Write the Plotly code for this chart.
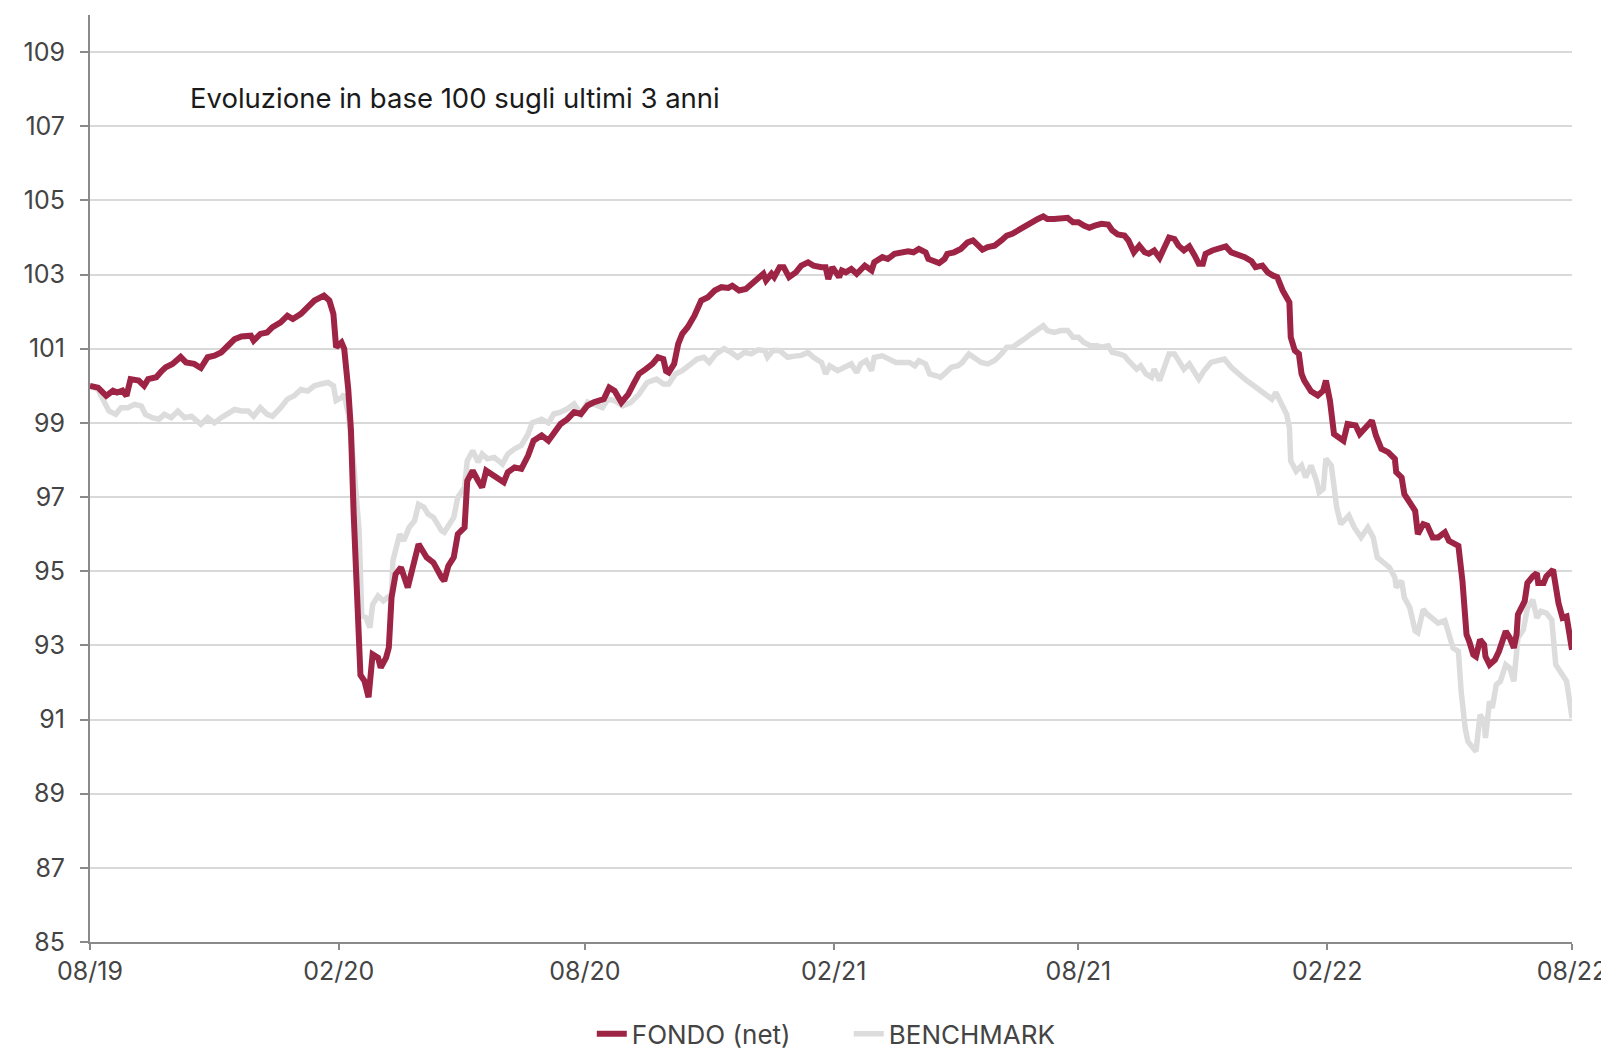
import pandas as pd
import plotly.graph_objects as go

START = "2019-08-01"
END = "2022-08-01"

# FONDO (net): days since start, index value
fondo_days = [0,6,12,17,20,24,27,30,36,40,43,49,53,56,61,67,71,77,82,87,92,97,102,107,112,119,121,126,131,135,
              141,146,150,156,161,166,173,177,180,182,186,188,191,193,195,198,200,203,206,209,213,215,219,221,223,
              226,230,235,239,243,249,254,260,262,265,269,272,277,279,283,287,290,293,299,306,309,314,319,324,328,
              334,339,343,348,353,358,363,368,373,376,380,384,388,393,398,402,406,411,416,420,424,426,428,432,435,
              438,442,447,452,457,462,467,472,475,480,485,490,495,498,500,504,506,510,513,517,522,526,531,535,541,
              544,546,549,554,556,559,563,567,570,573,578,580,586,590,595,600,605,609,613,618,620,623,628,632,634,
              639,644,649,653,657,660,664,669,674,678,682,686,691,696,701,705,708,713,718,723,727,731,735,739,743,
              748,753,756,760,765,768,772,776,780,783,787,791,794,798,802,805,809,813,817,820,823,825,830,835,840,
              844,849,854,859,862,867,871,875,878,882,887,888,891,894,896,898,903,908,912,914,917,920,927,930,934,
              936,939,943,948,951,955,960,965,966,970,972,976,980,982,986,989,993,997,1002,1005,1012,1015,1018,1020,
              1023,1025,1028,1031,1032,1035,1039,1042,1047,1050,1053,1055,1056,1061,1063,1067,1070,1071,1075,1077,
              1082,1086,1089,1092,1093,1095,1096]
fondo_vals = [100.0,99.95,99.73,99.87,99.82,99.87,99.73,100.18,100.14,100.0,100.18,100.23,100.4,100.5,100.59,
              100.78,100.63,100.59,100.48,100.77,100.81,100.9,101.08,101.26,101.33,101.35,101.22,101.4,101.44,101.58,
              101.71,101.89,101.8,101.94,102.12,102.3,102.43,102.3,101.94,101.04,101.17,101.0,99.9,98.8,96.54,93.84,
              92.2,92.04,91.6,92.76,92.67,92.4,92.67,92.94,94.29,94.92,95.1,94.56,95.19,95.73,95.37,95.23,94.83,94.74,
              95.14,95.37,96.0,96.18,97.44,97.71,97.44,97.26,97.71,97.58,97.4,97.67,97.8,97.76,98.12,98.52,98.66,98.52,
              98.75,98.97,99.1,99.29,99.24,99.47,99.56,99.6,99.64,99.95,99.86,99.55,99.77,100.05,100.32,100.45,100.59,
              100.77,100.72,100.4,100.36,100.59,101.13,101.4,101.58,101.89,102.3,102.39,102.57,102.66,102.64,102.7,
              102.57,102.61,102.75,102.93,103.02,102.84,103.02,102.93,103.2,103.2,102.93,103.06,103.24,103.33,103.24,
              103.2,103.2,102.88,103.2,102.93,103.11,103.06,103.15,103.02,103.11,103.24,103.11,103.33,103.47,103.42,
              103.56,103.6,103.63,103.6,103.69,103.6,103.42,103.38,103.31,103.42,103.56,103.6,103.69,103.87,103.92,
              103.78,103.67,103.74,103.78,103.92,104.05,104.1,104.19,104.3,104.41,104.5,104.57,104.5,104.5,104.5,
              104.53,104.41,104.41,104.32,104.26,104.32,104.37,104.35,104.19,104.08,104.05,103.92,103.6,103.78,103.6,
              103.56,103.65,103.45,103.65,104.0,103.96,103.78,103.65,103.76,103.51,103.29,103.29,103.56,103.65,103.69,
              103.76,103.6,103.54,103.47,103.36,103.2,103.24,103.06,102.97,102.93,102.57,102.25,101.31,100.95,100.86,
              100.32,100.14,99.85,99.74,99.87,100.14,99.6,98.7,98.52,98.97,98.97,98.93,98.7,98.84,99.06,98.66,98.3,
              98.21,98.03,97.67,97.53,97.08,96.86,96.63,96.0,96.27,96.23,95.91,95.91,96.05,95.82,95.68,94.73,93.29,
              93.11,92.75,92.7,93.15,93.02,92.7,92.48,92.61,92.84,93.38,93.2,92.93,93.29,93.83,94.19,94.68,94.86,94.95,
              94.68,94.68,94.86,95.04,94.14,93.74,93.78,93.56,93.29,92.88]

# BENCHMARK: days since start, index value
bench_days = [0,6,10,14,19,23,28,33,38,41,46,51,55,60,65,70,75,78,82,87,92,97,102,107,112,117,121,126,131,135,
              141,146,151,156,161,166,171,176,180,182,186,188,191,195,199,201,204,207,209,213,217,223,224,229,232,
              236,240,243,247,250,254,260,262,266,269,272,277,279,283,287,290,294,299,305,309,314,319,324,327,334,
              339,343,348,353,358,363,368,375,379,383,388,394,400,406,412,419,424,428,433,438,444,449,454,458,463,
              469,474,479,484,489,494,499,501,505,510,516,521,526,531,535,541,544,547,553,558,563,567,570,574,578,
              580,586,591,596,601,606,610,613,618,621,626,629,633,637,642,645,650,654,659,664,669,674,678,682,686,
              691,696,701,705,708,713,718,723,727,731,735,740,745,748,753,756,761,765,768,774,777,781,785,787,791,
              794,798,802,805,809,813,817,820,824,829,834,839,844,849,854,859,864,869,874,877,881,885,887,888,892,
              896,899,903,907,909,912,914,918,922,925,929,931,935,940,945,949,952,956,961,965,966,970,972,976,980,
              982,986,989,993,997,1002,1005,1008,1012,1014,1017,1019,1022,1025,1028,1031,1032,1035,1037,1040,1043,
              1047,1050,1053,1056,1060,1063,1067,1070,1073,1077,1081,1084,1089,1092,1095,1096]
bench_vals = [100.0,99.9,99.6,99.32,99.23,99.41,99.41,99.5,99.45,99.23,99.14,99.1,99.23,99.14,99.32,99.14,99.18,
              99.1,98.96,99.14,99.0,99.14,99.23,99.36,99.32,99.32,99.18,99.41,99.23,99.18,99.41,99.64,99.73,99.9,
              99.86,100.0,100.05,100.09,100.0,99.6,99.68,99.77,99.24,97.9,96.1,93.8,93.75,93.48,94.1,94.33,94.2,
              94.38,95.28,96.0,95.82,96.18,96.36,96.8,96.72,96.54,96.45,96.09,96.05,96.27,96.45,96.99,97.26,97.98,
              98.25,97.94,98.16,98.03,98.07,97.89,98.16,98.3,98.39,98.7,99.0,99.1,99.0,99.24,99.29,99.38,99.51,99.24,
              99.56,99.47,99.41,99.64,99.6,99.46,99.55,99.77,100.09,100.18,100.05,100.05,100.32,100.41,100.59,100.72,
              100.77,100.63,100.86,101.0,100.9,100.77,100.9,100.86,100.97,100.95,100.77,100.95,100.95,100.77,100.8,
              100.82,100.9,100.77,100.63,100.32,100.54,100.41,100.5,100.59,100.36,100.59,100.68,100.41,100.77,100.81,
              100.72,100.63,100.63,100.63,100.54,100.68,100.59,100.32,100.27,100.23,100.36,100.5,100.54,100.63,100.86,
              100.77,100.63,100.59,100.68,100.86,101.04,101.04,101.13,101.26,101.4,101.53,101.62,101.49,101.44,101.49,
              101.49,101.31,101.31,101.17,101.08,101.08,101.04,101.08,100.9,100.86,100.81,100.68,100.45,100.54,100.32,
              100.23,100.45,100.14,100.45,100.86,100.86,100.68,100.45,100.59,100.32,100.18,100.41,100.63,100.68,100.72,
              100.5,100.32,100.18,100.05,99.91,99.77,99.64,99.82,99.5,99.23,98.87,97.97,97.7,97.85,97.53,97.85,97.44,
              97.13,97.22,98.03,97.85,96.72,96.27,96.45,96.5,96.18,95.91,96.18,95.91,95.37,95.23,95.1,94.83,94.56,94.74,
              94.29,94.02,93.39,93.34,93.97,93.84,93.7,93.6,93.67,93.29,92.93,92.84,91.76,90.77,90.41,90.27,90.14,91.13,
              90.95,90.5,91.49,91.31,91.94,92.03,92.48,92.39,92.03,93.2,93.42,94.0,94.23,93.74,93.92,93.87,93.69,92.48,
              92.21,92.03,91.31,91.04]

y_ticks = list(range(85, 110, 2))
title_text = "Evoluzione in base 100 sugli ultimi 3 anni"
series_names = ["FONDO (net)", "BENCHMARK"]

start = pd.Timestamp(START)
fondo_dates = [start + pd.Timedelta(days=d) for d in fondo_days]
bench_dates = [start + pd.Timedelta(days=d) for d in bench_days]

RED = "#9d2444"
GREY = "#dcdcdc"
AXIS = "#8a8a8a"
FONT = "Inter"

fig = go.Figure()
fig.add_trace(go.Scatter(x=bench_dates, y=bench_vals, mode="lines", name=series_names[1],
                         line=dict(color=GREY, width=5.5)))
fig.add_trace(go.Scatter(x=fondo_dates, y=fondo_vals, mode="lines", name=series_names[0],
                         line=dict(color=RED, width=6)))

fig.update_layout(
    width=1609, height=1053,
    margin=dict(l=82, r=45, t=7, b=119, autoexpand=False),
    paper_bgcolor="white", plot_bgcolor="white",
    font=dict(family=FONT, size=25, color="#444444"),
    showlegend=True,
    legend=dict(orientation="h", traceorder="reversed", x=0.512, xanchor="center",
                y=-0.099, yanchor="middle", font=dict(size=26, color="#444444"),
                entrywidth=212, entrywidthmode="pixels",
                bgcolor="rgba(0,0,0,0)"),
    annotations=[dict(text=title_text, xref="paper", yref="paper", x=0.0658, y=0.910,
                      xanchor="left", yanchor="middle", showarrow=False,
                      font=dict(family=FONT, size=27.5, color="#1a1a1a"))],
)
fig.update_xaxes(
    type="date", range=[START, END], tick0=START, dtick="M6", tickformat="%m/%y",
    showgrid=False, showline=True, linecolor=AXIS, linewidth=2,
    ticks="outside", ticklen=6, tickcolor=AXIS, tickwidth=2,
    tickfont=dict(size=25, color="#444444"), ticklabelstandoff=0, zeroline=False,
)
fig.update_yaxes(
    range=[85, 110], tickvals=y_ticks, showgrid=True, gridcolor="#d9d9d9", gridwidth=2,
    showline=True, linecolor=AXIS, linewidth=2,
    ticks="outside", ticklen=8, tickcolor=AXIS, tickwidth=2,
    tickfont=dict(size=25, color="#444444"), ticklabelstandoff=10, zeroline=False,
)

fig.write_html("out.html")
